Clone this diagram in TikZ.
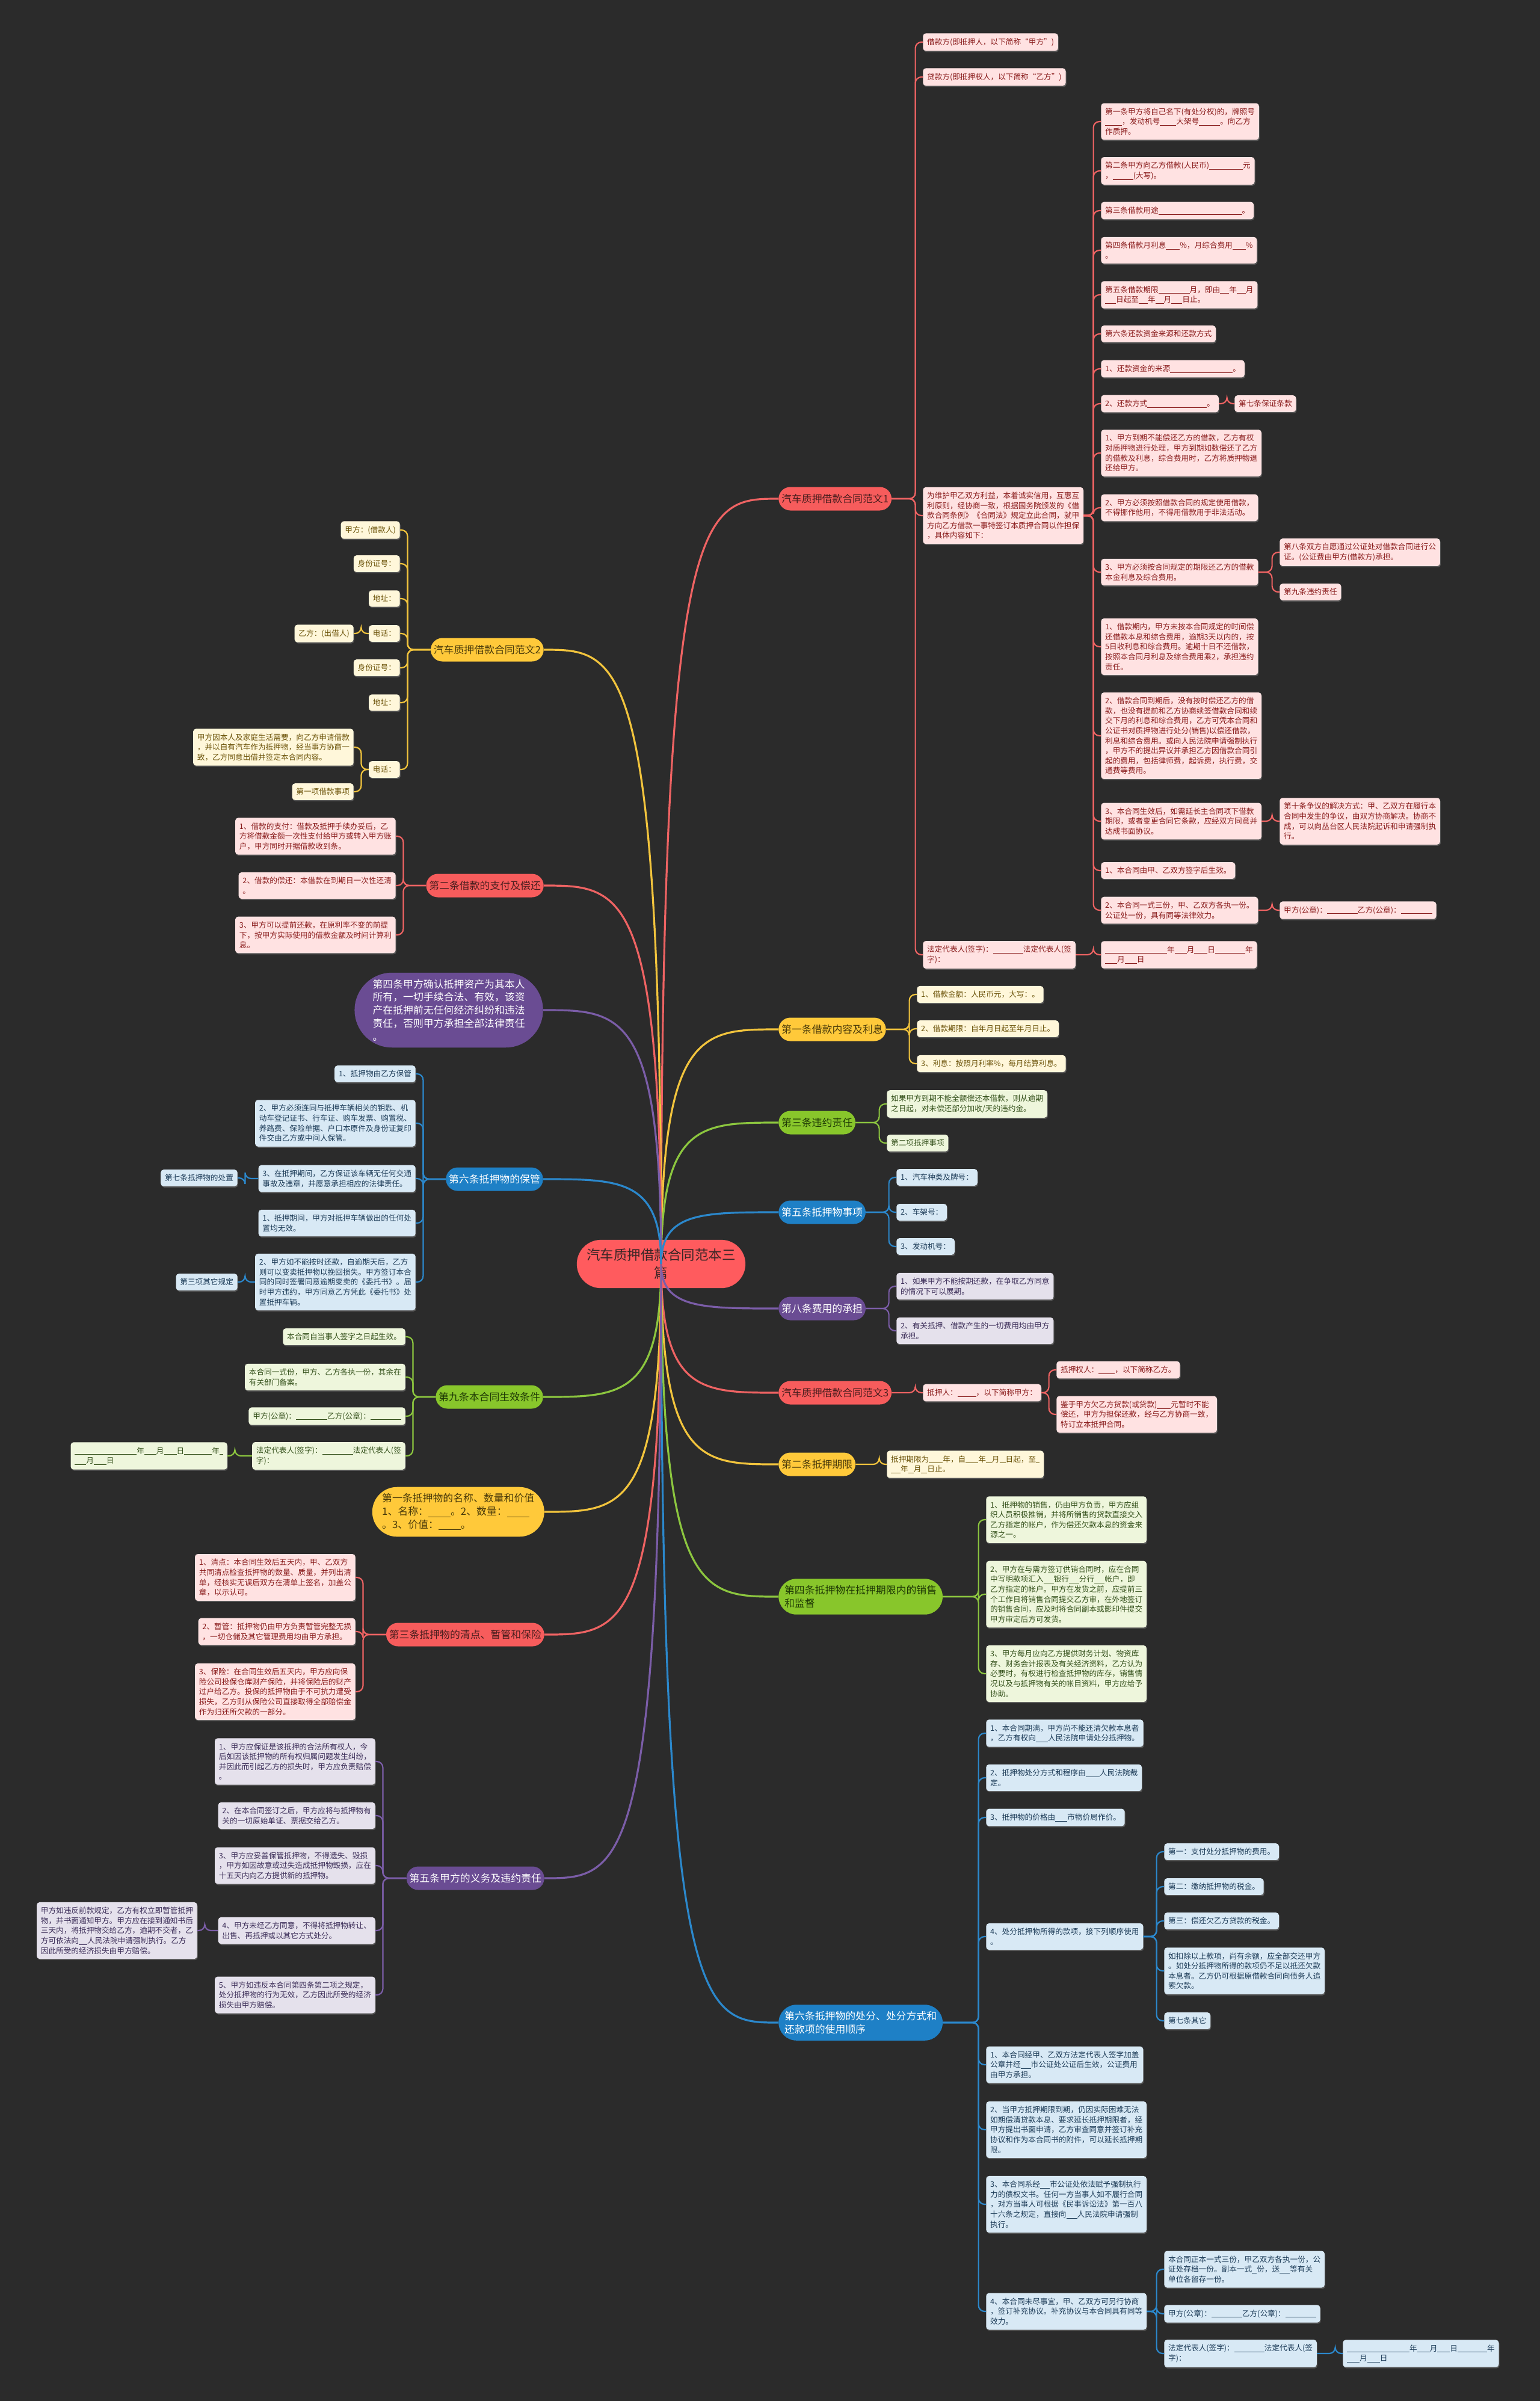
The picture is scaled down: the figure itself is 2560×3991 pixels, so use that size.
\documentclass[tikz,border=0pt]{standalone}
\usepackage{fontspec}
\setmainfont{Noto Sans CJK SC}
\usetikzlibrary{shapes.misc, shadows, calc}

\definecolor{bgdark}{HTML}{2B2B2B}
\definecolor{hubred}{HTML}{FF5B5E}
\definecolor{hubtext}{HTML}{3A2626}
\definecolor{redmain}{HTML}{F75C5C}
\definecolor{redline}{HTML}{EE6363}
\definecolor{redleaf}{HTML}{FFE2E2}
\definecolor{redtext}{HTML}{8A1C1C}
\definecolor{redpilltext}{HTML}{4A1E1E}
\definecolor{yelmain}{HTML}{FFC93A}
\definecolor{yelline}{HTML}{F2C43D}
\definecolor{yelleaf}{HTML}{FFF7DA}
\definecolor{yeltext}{HTML}{6B5208}
\definecolor{yelpilltext}{HTML}{4A3A0A}
\definecolor{grnmain}{HTML}{88C62B}
\definecolor{grnline}{HTML}{8CC63F}
\definecolor{grnleaf}{HTML}{EEF6DC}
\definecolor{grntext}{HTML}{33501A}
\definecolor{grnpilltext}{HTML}{1F3A05}
\definecolor{blumain}{HTML}{1E80C6}
\definecolor{bluline}{HTML}{2B88CC}
\definecolor{bluleaf}{HTML}{D8E9F5}
\definecolor{blutext}{HTML}{1D3C58}
\definecolor{purmain}{HTML}{6A4C93}
\definecolor{purline}{HTML}{7B5DA8}
\definecolor{purleaf}{HTML}{E5E1EC}
\definecolor{purtext}{HTML}{3B2D58}

\newcommand\fillin[1]{\rule[-0.3ex]{#1\dimexpr0.25mm\relax}{0.6pt}}
\newcommand\leaffont{\fontsize{9}{11.8}\selectfont}
\newcommand\pillfont{\fontsize{12}{15.5}\selectfont}
\newcommand\hubfont{\fontsize{16}{21}\selectfont}

\begin{document}
\begin{tikzpicture}[
	x=0.25mm, y=-0.25mm,
	leaf/.style={rounded corners=1.2mm, inner xsep=1.7mm, inner ysep=2mm, align=left, font=\leaffont,
		drop shadow={shadow xshift=0.3mm, shadow yshift=-0.5mm, opacity=0.5}},
	rleaf/.style={leaf, fill=redleaf, text=redtext},
	yleaf/.style={leaf, fill=yelleaf, text=yeltext},
	gleaf/.style={leaf, fill=grnleaf, text=grntext},
	bleaf/.style={leaf, fill=bluleaf, text=blutext},
	pleaf/.style={leaf, fill=purleaf, text=purtext},
	pill/.style={rounded rectangle, inner xsep=0.8mm, inner ysep=2.75mm, minimum height=9.75mm, align=left, font=\pillfont},
	rpill/.style={pill, fill=redmain, text=redpilltext},
	ypill/.style={pill, fill=yelmain, text=yelpilltext},
	gpill/.style={pill, fill=grnmain, text=grnpilltext},
	bpill/.style={pill, fill=blumain, text=white},
	ppill/.style={pill, fill=purmain, text=white},
	hub/.style={rounded rectangle, fill=hubred, text=hubtext, inner xsep=1.9mm, inner ysep=3.75mm, align=center, font=\hubfont},
	trunk/.style={line width=0.8mm},
	link/.style={line width=0.55mm, rounded corners=2.5mm},
	rlink/.style={link, draw=redline},
	ylink/.style={link, draw=yelline},
	glink/.style={link, draw=grnline},
	blink/.style={link, draw=bluline},
	plink/.style={link, draw=purline}
	]
	
	\fill[bgdark] (0,0) rectangle (2560,3991);
	\useasboundingbox (0,0) rectangle (2560,3991);
	
	% --- CENTRE ---
	\node[hub] (hub) at (1099,2101) {汽车质押借款合同范本三\\篇};
	
	% --- RIGHT: SAMPLE 1 ---
	\node[rpill, anchor=west] (samp1) at (1294,829) {汽车质押借款合同范文1};
	\node[rleaf, anchor=west] (s1-1) at (1534,70) {借款方(即抵押人，以下简称“甲方”)};
	\node[rleaf, anchor=west] (s1-2) at (1534,128) {贷款方(即抵押权人，以下简称“乙方”)};
	\node[rleaf, anchor=west] (intro) at (1534,857) {为维护甲乙双方利益，本着诚实信用，互惠互\\利原则，经协商一致，根据国务院颁发的《借\\款合同条例》《合同法》规定立此合同，就甲\\方向乙方借款一事特签订本质押合同以作担保\\，具体内容如下：};
	\node[rleaf, anchor=west] (s1-4) at (1534,1587) {法定代表人(签字)：\fillin{50}法定代表人(签\\字)：};
	\node[rleaf, anchor=west] (s1-date) at (1830,1587) {\fillin{103}年\fillin{20}月\fillin{22}日\fillin{50}年\\\fillin{20}月\fillin{20}日};
	
	% Articles
	\node[rleaf, anchor=west] (b-1) at (1830,202) {第一条甲方将自己名下(有处分权)的，牌照号\\\fillin{28}，发动机号\fillin{27}大架号\fillin{35}。向乙方\\作质押。};
	\node[rleaf, anchor=west] (b-2) at (1830,284) {第二条甲方向乙方借款(人民币)\fillin{56}元\\，\fillin{34}(大写)。};
	\node[rleaf, anchor=west] (b-3) at (1830,350) {第三条借款用途\fillin{139}。};
	\node[rleaf, anchor=west] (b-4) at (1830,416) {第四条借款月利息\fillin{23}\%，月综合费用\fillin{22}\%\\。};
	\node[rleaf, anchor=west] (b-5) at (1830,490) {第五条借款期限\fillin{52}月，即由\fillin{15}年\fillin{15}月\\\fillin{18}日起至\fillin{15}年\fillin{14}月\fillin{18}日止。};
	\node[rleaf, anchor=west] (b-6) at (1830,555) {第六条还款资金来源和还款方式};
	\node[rleaf, anchor=west] (b-7) at (1830,613) {1、还款资金的来源\fillin{104}。};
	\node[rleaf, anchor=west] (b-8) at (1830,671) {2、还款方式\fillin{99}。};
	\node[rleaf, anchor=west] (b-8a) at (2052,671) {第七条保证条款};
	\node[rleaf, anchor=west] (b-9) at (1830,753) {1、甲方到期不能偿还乙方的借款，乙方有权\\对质押物进行处理，甲方到期如数偿还了乙方\\的借款及利息，综合费用时，乙方将质押物退\\还给甲方。};
	\node[rleaf, anchor=west] (b-10) at (1830,844) {2、甲方必须按照借款合同的规定使用借款，\\不得挪作他用，不得用借款用于非法活动。};
	\node[rleaf, anchor=west] (b-11) at (1830,951) {3、甲方必须按合同规定的期限还乙方的借款\\本金利息及综合费用。};
	\node[rleaf, anchor=west] (b-11a) at (2127,918) {第八条双方自愿通过公证处对借款合同进行公\\证。(公证费由甲方(借款方)承担。};
	\node[rleaf, anchor=west] (b-11b) at (2127,984) {第九条违约责任};
	\node[rleaf, anchor=west] (b-12) at (1830,1075) {1、借款期内，甲方未按本合同规定的时间偿\\还借款本息和综合费用，逾期3天以内的，按\\5日收利息和综合费用。逾期十日不还借款，\\按照本合同月利息及综合费用乘2，承担违约\\责任。};
	\node[rleaf, anchor=west] (b-13) at (1830,1223) {2、借款合同到期后，没有按时偿还乙方的借\\款，也没有提前和乙方协商续签借款合同和续\\交下月的利息和综合费用，乙方可凭本合同和\\公证书对质押物进行处分(销售)以偿还借款，\\利息和综合费用。或向人民法院申请强制执行\\，甲方不的提出异议并承担乙方因借款合同引\\起的费用，包括律师费，起诉费，执行费，交\\通费等费用。};
	\node[rleaf, anchor=west] (b-14) at (1830,1365) {3、本合同生效后，如需延长主合同项下借款\\期限，或者变更合同它条款，应经双方同意并\\达成书面协议。};
	\node[rleaf, anchor=west] (b-14a) at (2127,1365) {第十条争议的解决方式：甲、乙双方在履行本\\合同中发生的争议，由双方协商解决。协商不\\成，可以向丛台区人民法院起诉和申请强制执\\行。};
	\node[rleaf, anchor=west] (b-15) at (1830,1447) {1、本合同由甲、乙双方签字后生效。};
	\node[rleaf, anchor=west] (b-16) at (1830,1513) {2、本合同一式三份，甲、乙双方各执一份。\\公证处一份，具有同等法律效力。};
	\node[rleaf, anchor=west] (b-16a) at (2127,1513) {甲方(公章)：\fillin{51}乙方(公章)：\fillin{52}};
	
	% --- RIGHT: LOAN TERMS ---
	\node[ypill, anchor=west] (loan) at (1294,1711) {第一条借款内容及利息};
	\node[yleaf, anchor=west] (loan-1) at (1524,1653) {1、借款金额：人民币元，大写：。};
	\node[yleaf, anchor=west] (loan-2) at (1524,1710) {2、借款期限：自年月日起至年月日止。};
	\node[yleaf, anchor=west] (loan-3) at (1524,1768) {3、利息：按照月利率\%，每月结算利息。};
	
	\node[gpill, anchor=west] (breach) at (1294,1866) {第三条违约责任};
	\node[gleaf, anchor=west] (breach-1) at (1474,1835) {如果甲方到期不能全额偿还本借款，则从逾期\\之日起，对未偿还部分加收/天的违约金。};
	\node[gleaf, anchor=west] (breach-2) at (1474,1900) {第二项抵押事项};
	
	\node[bpill, anchor=west] (item) at (1294,2015) {第五条抵押物事项};
	\node[bleaf, anchor=west] (item-1) at (1490,1957) {1、汽车种类及牌号：};
	\node[bleaf, anchor=west] (item-2) at (1490,2015) {2、车架号：};
	\node[bleaf, anchor=west] (item-3) at (1490,2072) {3、发动机号：};
	
	\node[ppill, anchor=west] (cost) at (1294,2175) {第八条费用的承担};
	\node[pleaf, anchor=west] (cost-1) at (1490,2138) {1、如果甲方不能按期还款，在争取乙方同意\\的情况下可以展期。};
	\node[pleaf, anchor=west] (cost-2) at (1490,2212) {2、有关抵押、借款产生的一切费用均由甲方\\承担。};
	
	% --- RIGHT: SAMPLE 3 ---
	\node[rpill, anchor=west] (samp3) at (1294,2315) {汽车质押借款合同范文3};
	\node[rleaf, anchor=west] (samp3-1) at (1534,2315) {抵押人：\fillin{31}，以下简称甲方：};
	\node[rleaf, anchor=west] (samp3-1a) at (1756,2277) {抵押权人：\fillin{27}，以下简称乙方。};
	\node[rleaf, anchor=west] (samp3-1b) at (1756,2351) {鉴于甲方欠乙方货款(或贷款)\fillin{23}元暂时不能\\偿还，甲方为担保还款，经与乙方协商一致，\\特订立本抵押合同。};
	
	\node[ypill, anchor=west] (term) at (1294,2434) {第二条抵押期限};
	\node[yleaf, anchor=west] (term-1) at (1474,2434) {抵押期限为\fillin{23}年，自\fillin{21}年\fillin{10}月\fillin{10}日起，至\fillin{6}\\\fillin{16}年\fillin{9}月\fillin{10}日止。};
	
	\node[gpill, anchor=west] (sale) at (1294,2654) {第四条抵押物在抵押期限内的销售\\和监督};
	\node[gleaf, anchor=west] (sale-1) at (1639,2526) {1、抵押物的销售，仍由甲方负责，甲方应组\\织人员积极推销，并将所销售的货款直接交入\\乙方指定的帐户，作为偿还欠款本息的资金来\\源之一。};
	\node[gleaf, anchor=west] (sale-2) at (1639,2650) {2、甲方在与需方签订供销合同时，应在合同\\中写明款项汇入\fillin{17}银行\fillin{17}分行\fillin{17}帐户，即\\乙方指定的帐户。甲方在发货之前，应提前三\\个工作日将销售合同提交乙方审，在外地签订\\的销售合同，应及时将合同副本或影印件提交\\甲方审定后方可发货。};
	\node[gleaf, anchor=west] (sale-3) at (1639,2782) {3、甲方每月应向乙方提供财务计划、物资库\\存、财务会计报表及有关经济资料，乙方认为\\必要时，有权进行检查抵押物的库存，销售情\\况以及与抵押物有关的帐目资料，甲方应给予\\协助。};
	
	\node[bpill, anchor=west] (disp) at (1294,3362) {第六条抵押物的处分、处分方式和\\还款项的使用顺序};
	\node[bleaf, anchor=west] (disp-1) at (1639,2881) {1、本合同期满，甲方尚不能还清欠款本息者\\，乙方有权向\fillin{20}人民法院申请处分抵押物。};
	\node[bleaf, anchor=west] (disp-2) at (1639,2955) {2、抵押物处分方式和程序由\fillin{23}人民法院裁\\定。};
	\node[bleaf, anchor=west] (disp-3) at (1639,3021) {3、抵押物的价格由\fillin{20}市物价局作价。};
	\node[bleaf, anchor=west] (disp-4) at (1639,3219) {4、处分抵押物所得的款项，接下列顺序使用\\。};
	\node[bleaf, anchor=west] (disp-4a) at (1935,3078) {第一：支付处分抵押物的费用。};
	\node[bleaf, anchor=west] (disp-4b) at (1935,3136) {第二：缴纳抵押物的税金。};
	\node[bleaf, anchor=west] (disp-4c) at (1935,3193) {第三：偿还欠乙方贷款的税金。};
	\node[bleaf, anchor=west] (disp-4d) at (1935,3276) {如扣除以上款项，尚有余额，应全部交还甲方\\。如处分抵押物所得的款项仍不足以抵还欠款\\本息者。乙方仍可根据原借款合同向债务人追\\索欠款。};
	\node[bleaf, anchor=west] (disp-4e) at (1935,3359) {第七条其它};
	\node[bleaf, anchor=west] (disp-5) at (1639,3432) {1、本合同经甲、乙双方法定代表人签字加盖\\公章并经\fillin{17}市公证处公证后生效，公证费用\\由甲方承担。};
	\node[bleaf, anchor=west] (disp-6) at (1639,3540) {2、当甲方抵押期限到期，仍因实际困难无法\\如期偿清贷款本息、要求延长抵押期限者，经\\甲方提出书面申请，乙方审查同意并签订补充\\协议和作为本合同书的附件，可以延长抵押期\\限。};
	\node[bleaf, anchor=west] (disp-7) at (1639,3664) {3、本合同系经\fillin{16}市公证处依法赋予强制执行\\力的债权文书。任何一方当事人如不履行合同\\，对方当事人可根据《民事诉讼法》第一百八\\十六条之规定，直接向\fillin{18}人民法院申请强制\\执行。};
	\node[bleaf, anchor=west] (disp-8) at (1639,3842) {4、本合同未尽事宜，甲、乙双方可另行协商\\，签订补充协议。补充协议与本合同具有同等\\效力。};
	\node[bleaf, anchor=west] (disp-8a) at (1935,3772) {本合同正本一式三份，甲乙双方各执一份，公\\证处存档一份。副本一式\fillin{8}份，送\fillin{17}等有关\\单位各留存一份。};
	\node[bleaf, anchor=west] (disp-8b) at (1935,3846) {甲方(公章)：\fillin{51}乙方(公章)：\fillin{51}};
	\node[bleaf, anchor=west] (disp-8c) at (1935,3912) {法定代表人(签字)：\fillin{50}法定代表人(签\\字)：};
	\node[bleaf, anchor=west] (disp-8d) at (2232,3912) {\fillin{104}年\fillin{21}月\fillin{21}日\fillin{49}年\\\fillin{21}月\fillin{21}日};
	
	% --- LEFT: SAMPLE 2 ---
	\node[ypill, anchor=east] (samp2) at (904,1080) {汽车质押借款合同范文2};
	\foreach \i/\y/\t in {1/881/{甲方：(借款人)}, 2/937/{身份证号：}, 3/995/{地址：}, 4/1053/{电话：},
		5/1110/{身份证号：}, 6/1168/{地址：}, 7/1279/{电话：}}
	\node[yleaf, anchor=east] (samp2-\i) at (665,\y) {\t};
	\node[yleaf, anchor=east] (samp2-4a) at (588,1053) {乙方：(出借人)};
	\node[yleaf, anchor=east] (samp2-7a) at (588,1242) {甲方因本人及家庭生活需要，向乙方申请借款\\，并以自有汽车作为抵押物，经当事方协商一\\致，乙方同意出借并签定本合同内容。};
	\node[yleaf, anchor=east] (samp2-7b) at (588,1316) {第一项借款事项};
	
	\node[rpill, anchor=east] (pay) at (904,1472) {第二条借款的支付及偿还};
	\node[rleaf, anchor=east] (pay-1) at (658,1390) {1、借款的支付：借款及抵押手续办妥后，乙\\方将借款金额一次性支付给甲方或转入甲方账\\户，甲方同时开据借款收到条。};
	\node[rleaf, anchor=east] (pay-2) at (658,1472) {2、借款的偿还：本借款在到期日一次性还清\\。};
	\node[rleaf, anchor=east] (pay-3) at (658,1554) {3、甲方可以提前还款，在原利率不变的前提\\下，按甲方实际使用的借款金额及时间计算利\\息。};
	
	\node[ppill, anchor=east] (own) at (903,1679) {第四条甲方确认抵押资产为其本人\\所有，一切手续合法、有效，该资\\产在抵押前无任何经济纠纷和违法\\责任，否则甲方承担全部法律责任\\。};
	
	% --- LEFT: KEEPING ---
	\node[bpill, anchor=east] (keep) at (903,1960) {第六条抵押物的保管};
	\node[bleaf, anchor=east] (keep-1) at (691,1785) {1、抵押物由乙方保管};
	\node[bleaf, anchor=east] (keep-2) at (691,1867) {2、甲方必须连同与抵押车辆相关的钥匙、机\\动车登记证书、行车证、购车发票、购置税、\\养路费、保险单据、户口本原件及身份证复印\\件交由乙方或中间人保管。};
	\node[bleaf, anchor=east] (keep-3) at (691,1959) {3、在抵押期间，乙方保证该车辆无任何交通\\事故及违章，并愿意承担相应的法律责任。};
	\node[bleaf, anchor=east] (keep-3a) at (395,1958) {第七条抵押物的处置};
	\node[bleaf, anchor=east] (keep-4) at (691,2033) {1、抵押期间，甲方对抵押车辆做出的任何处\\置均无效。};
	\node[bleaf, anchor=east] (keep-5) at (691,2131) {2、甲方如不能按时还款，自逾期天后，乙方\\则可以变卖抵押物以挽回损失。甲方签订本合\\同的同时签署同意逾期变卖的《委托书》。届\\时甲方违约，甲方同意乙方凭此《委托书》处\\置抵押车辆。};
	\node[bleaf, anchor=east] (keep-5a) at (395,2131) {第三项其它规定};
	
	\node[gpill, anchor=east] (valid) at (903,2322) {第九条本合同生效条件};
	\node[gleaf, anchor=east] (valid-1) at (674,2222) {本合同自当事人签字之日起生效。};
	\node[gleaf, anchor=east] (valid-2) at (674,2289) {本合同一式份，甲方、乙方各执一份，其余在\\有关部门备案。};
	\node[gleaf, anchor=east] (valid-3) at (674,2354) {甲方(公章)：\fillin{52}乙方(公章)：\fillin{51}};
	\node[gleaf, anchor=east] (valid-4) at (674,2420) {法定代表人(签字)：\fillin{51}法定代表人(签\\字)：};
	\node[gleaf, anchor=east] (valid-4a) at (378,2420) {\fillin{103}年\fillin{20}月\fillin{21}日\fillin{46}年\fillin{6}\\\fillin{19}月\fillin{21}日};
	
	% --- LEFT: PLEDGED GOODS ---
	\node[ypill, anchor=east] (name) at (905,2513) {第一条抵押物的名称、数量和价值\\1、名称：\fillin{37}。2、数量：\fillin{37}\\。3、价值：\fillin{37}。};
	
	\node[rpill, anchor=east] (check) at (905,2717) {第三条抵押物的清点、暂管和保险};
	\node[rleaf, anchor=east] (check-1) at (591,2622) {1、清点：本合同生效后五天内，甲、乙双方\\共同清点检查抵押物的数量、质量，并列出清\\单，经核实无误后双方在清单上签名，加盖公\\章，以示认可。};
	\node[rleaf, anchor=east] (check-2) at (591,2712) {2、暂管：抵押物仍由甲方负责暂管完整无损\\，一切仓储及其它管理费用均由甲方承担。};
	\node[rleaf, anchor=east] (check-3) at (591,2812) {3、保险：在合同生效后五天内，甲方应向保\\险公司投保仓库财产保险，并将保险后的财产\\过户给乙方。投保的抵押物由于不可抗力遭受\\损失，乙方则从保险公司直接取得全部赔偿金\\作为归还所欠款的一部分。};
	
	\node[ppill, anchor=east] (duty) at (905,3122) {第五条甲方的义务及违约责任};
	\node[pleaf, anchor=east] (duty-1) at (624,2928) {1、甲方应保证是该抵押的合法所有权人，今\\后如因该抵押物的所有权归属问题发生纠纷，\\并因此而引起乙方的损失时，甲方应负责赔偿\\。};
	\node[pleaf, anchor=east] (duty-2) at (624,3018) {2、在本合同签订之后，甲方应将与抵押物有\\关的一切原始单证、票据交给乙方。};
	\node[pleaf, anchor=east] (duty-3) at (624,3101) {3、甲方应妥善保管抵押物，不得遗失、毁损\\，甲方如因故意或过失造成抵押物毁损，应在\\十五天内向乙方提供新的抵押物。};
	\node[pleaf, anchor=east] (duty-4) at (624,3209) {4、甲方未经乙方同意，不得将抵押物转让、\\出售、再抵押或以其它方式处分。};
	\node[pleaf, anchor=east] (duty-4a) at (328,3209) {甲方如违反前款规定，乙方有权立即暂管抵押\\物，并书面通知甲方。甲方应在接到通知书后\\三天内，将抵押物交给乙方，逾期不交者，乙\\方可依法向\fillin{14}人民法院申请强制执行。乙方\\因此所受的经济损失由甲方赔偿。};
	\node[pleaf, anchor=east] (duty-5) at (624,3316) {5、甲方如违反本合同第四条第二项之规定，\\处分抵押物的行为无效，乙方因此所受的经济\\损失由甲方赔偿。};
	
	% --- TRUNKS ---
	\foreach \b/\col in {samp1/redline, loan/yelline, breach/grnline, item/bluline, cost/purline,
		samp3/redline, term/yelline, sale/grnline, disp/bluline}
	\draw[trunk, \col] (hub.center) .. controls (hub.center |- \b.west) and ($(hub.center |- \b.west)!0.35!(\b.west)$) .. (\b.west);
	\foreach \b/\col in {samp2/yelline, pay/redline, own/purline, keep/bluline, valid/grnline,
		name/yelline, check/redline, duty/purline}
	\draw[trunk, \col] (hub.center) .. controls (hub.center |- \b.east) and ($(hub.center |- \b.east)!0.35!(\b.east)$) .. (\b.east);
	
	% --- LINKS (right side) ---
	\foreach \i in {1,...,16}
	\draw[rlink] (intro.east) -| ([xshift=-3.1mm]b-\i.west) -- (b-\i.west);
	\foreach \p/\kids in {samp1/{s1-1,s1-2,intro,s1-4}, s1-4/{s1-date}, b-8/{b-8a}, b-11/{b-11a,b-11b},
		b-14/{b-14a}, b-16/{b-16a}, samp3/{samp3-1}, samp3-1/{samp3-1a,samp3-1b}}
	\foreach \c in \kids
	\draw[rlink] (\p.east) -| ([xshift=-3.1mm]\c.west) -- (\c.west);
	\foreach \p/\kids in {loan/{loan-1,loan-2,loan-3}, term/{term-1}}
	\foreach \c in \kids
	\draw[ylink] (\p.east) -| ([xshift=-3.1mm]\c.west) -- (\c.west);
	\foreach \p/\kids in {breach/{breach-1,breach-2}, sale/{sale-1,sale-2,sale-3}}
	\foreach \c in \kids
	\draw[glink] (\p.east) -| ([xshift=-3.1mm]\c.west) -- (\c.west);
	\foreach \p/\kids in {item/{item-1,item-2,item-3}, disp/{disp-1,disp-2,disp-3,disp-4,disp-5,disp-6,disp-7,disp-8},
		disp-4/{disp-4a,disp-4b,disp-4c,disp-4d,disp-4e}, disp-8/{disp-8a,disp-8b,disp-8c}, disp-8c/{disp-8d}}
	\foreach \c in \kids
	\draw[blink] (\p.east) -| ([xshift=-3.1mm]\c.west) -- (\c.west);
	\foreach \c in {cost-1,cost-2}
	\draw[plink] (cost.east) -| ([xshift=-3.1mm]\c.west) -- (\c.west);
	
	% --- LINKS (left side) ---
	\foreach \p/\kids in {samp2/{samp2-1,samp2-2,samp2-3,samp2-4,samp2-5,samp2-6,samp2-7}, samp2-4/{samp2-4a},
		samp2-7/{samp2-7a,samp2-7b}}
	\foreach \c in \kids
	\draw[ylink] (\p.west) -| ([xshift=3.1mm]\c.east) -- (\c.east);
	\foreach \p/\kids in {pay/{pay-1,pay-2,pay-3}, check/{check-1,check-2,check-3}}
	\foreach \c in \kids
	\draw[rlink] (\p.west) -| ([xshift=3.1mm]\c.east) -- (\c.east);
	\foreach \p/\kids in {keep/{keep-1,keep-2,keep-3,keep-4,keep-5}, keep-3/{keep-3a}, keep-5/{keep-5a}}
	\foreach \c in \kids
	\draw[blink] (\p.west) -| ([xshift=3.1mm]\c.east) -- (\c.east);
	\foreach \p/\kids in {valid/{valid-1,valid-2,valid-3,valid-4}, valid-4/{valid-4a}}
	\foreach \c in \kids
	\draw[glink] (\p.west) -| ([xshift=3.1mm]\c.east) -- (\c.east);
	\foreach \p/\kids in {duty/{duty-1,duty-2,duty-3,duty-4,duty-5}, duty-4/{duty-4a}}
	\foreach \c in \kids
	\draw[plink] (\p.west) -| ([xshift=3.1mm]\c.east) -- (\c.east);
	
\end{tikzpicture}
\end{document}
